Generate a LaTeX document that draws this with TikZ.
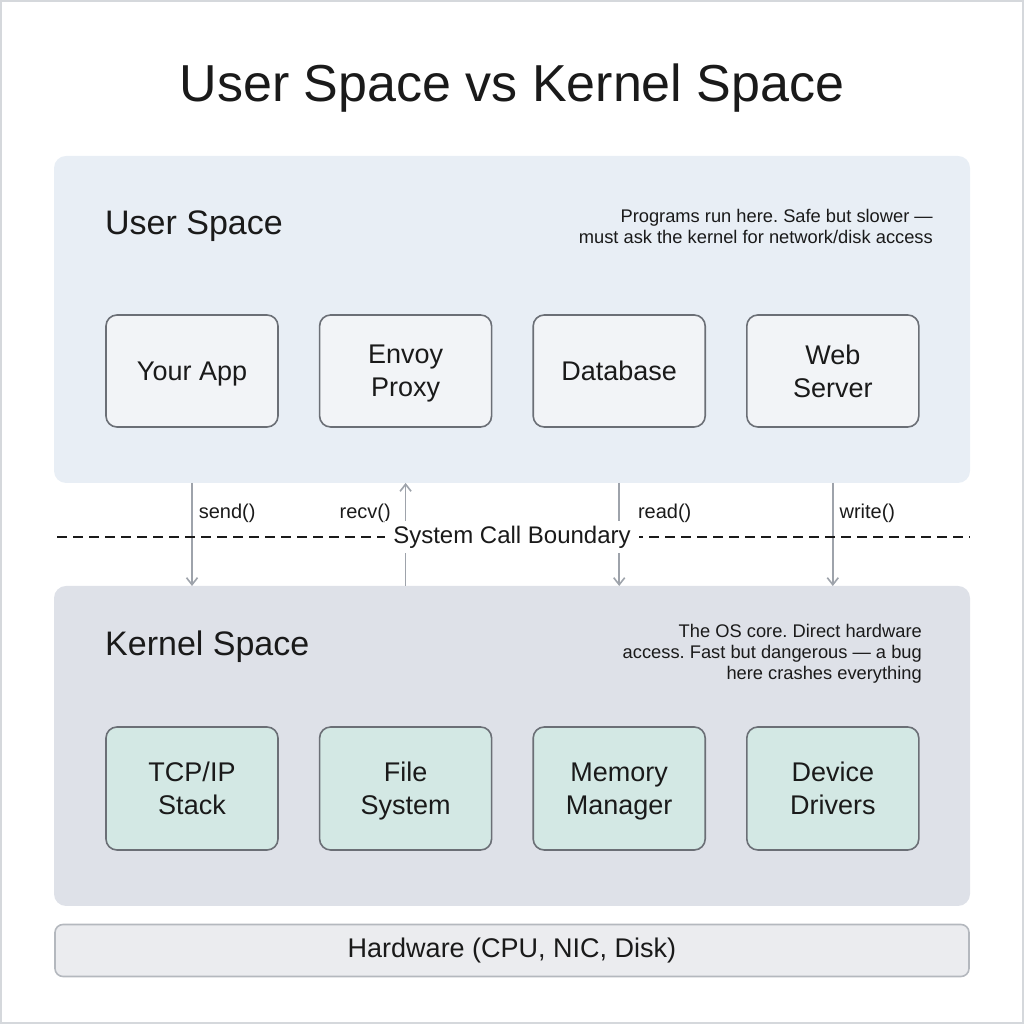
\documentclass[tikz,border=0pt]{standalone}
\usepackage{fontspec}
\setmainfont{Liberation Sans}
\usetikzlibrary{arrows.meta}
\usepackage{xcolor}
\definecolor{userfill}{HTML}{E8EEF5}
\definecolor{kernfill}{HTML}{DEE1E8}
\definecolor{appfill}{HTML}{F2F4F7}
\definecolor{modfill}{HTML}{D3E8E4}
\definecolor{boxline}{HTML}{6B6F76}
\definecolor{callline}{HTML}{9EA3AB}
\definecolor{hwfill}{HTML}{EBECEF}
\definecolor{hwline}{HTML}{B4B8BE}
\definecolor{framegray}{HTML}{D5D8DC}
\definecolor{ink}{HTML}{1A1A1A}
\newcommand{\fsz}[2]{\fontsize{#1}{#2}\selectfont}
\frenchspacing

\begin{document}
\begin{tikzpicture}[x=1pt,y=1pt,text=ink,>={Straight Barb[length=7pt,width=11pt]},
  panel/.style={rectangle,rounded corners=12pt,minimum width=916pt,inner sep=0pt,outer sep=0pt},
  appbox/.style={rectangle,draw=boxline,line width=1.6pt,rounded corners=11pt,minimum width=172pt,align=center,text depth=0pt,font=\fsz{27}{33}},
  call/.style={callline,line width=1.6pt,->},
  calllabel/.style={text=ink,font=\fsz{20}{24},inner sep=4pt}]
\useasboundingbox (0,0) rectangle (1024,1024);
\draw [framegray,line width=2pt] (1,1) rectangle (1023,1023);

\node [font=\fsz{52}{60}] (title) at (512,936) {User Space vs Kernel Space};

% user space
\node [panel,fill=userfill,minimum height=327pt] (upanel) at (512,704.5) {};
\node [anchor=base west,font=\fsz{34}{40},inner sep=0pt] (ulabel) at (105,789) {User Space};
\node [anchor=east,align=right,font=\fsz{18.3}{21},inner sep=0pt] (udesc) at (933,798) {Programs run here. Safe but slower —\\must ask the kernel for network/disk access};
\node [appbox,fill=appfill,minimum height=112pt] (app) at (192,653) {Your App};
\node [appbox,fill=appfill,minimum height=112pt,right=40pt,at=(app.east)] (envoy) {Envoy\\Proxy};
\node [appbox,fill=appfill,minimum height=112pt,right=40pt,at=(envoy.east)] (db) {Database};
\node [appbox,fill=appfill,minimum height=112pt,right=40pt,at=(db.east)] (web) {Web\\Server};

% kernel space
\node [panel,fill=kernfill,minimum height=320pt] (kpanel) at (512,278) {};
\node [anchor=base west,font=\fsz{34}{40},inner sep=0pt] (klabel) at (105,368) {Kernel Space};
\node [anchor=east,align=right,font=\fsz{18.3}{21},inner sep=0pt] (kdesc) at (922,370) {The OS core. Direct hardware\\access. Fast but dangerous — a bug\\here crashes everything};
\node [appbox,fill=modfill,minimum height=123pt] (tcp) at (192,235.5) {TCP/IP\\Stack};
\node [appbox,fill=modfill,minimum height=123pt,right=40pt,at=(tcp.east)] (fs) {File\\System};
\node [appbox,fill=modfill,minimum height=123pt,right=40pt,at=(fs.east)] (mem) {Memory\\Manager};
\node [appbox,fill=modfill,minimum height=123pt,right=40pt,at=(mem.east)] (drv) {Device\\Drivers};

% hardware
\node [rectangle,draw=hwline,fill=hwfill,line width=1.6pt,rounded corners=8pt,minimum width=914pt,minimum height=52pt,font=\fsz{27}{30}] (hw) at (512,73.5) {Hardware (CPU, NIC, Disk)};

% system calls
\draw [call] (app |- upanel.south) -- node [calllabel,right=2pt,pos=0.29] {send()} (app |- kpanel.north);
\draw [call] (envoy |- kpanel.north) -- node [calllabel,left=10pt,pos=0.71] {recv()} (envoy |- upanel.south);
\draw [call] (db |- upanel.south) -- node [calllabel,right=14pt,pos=0.29] {read()} (db |- kpanel.north);
\draw [call] (web |- upanel.south) -- node [calllabel,right=2pt,pos=0.29] {write()} (web |- kpanel.north);

\coordinate (bleft) at (57,487);
\coordinate (bright) at (970,487);
\draw [ink,line width=2.2pt,dash pattern=on 10pt off 6pt] (bleft) -- (bright);
\node [fill=white,font=\fsz{24}{28},inner xsep=8pt,inner ysep=5pt] (boundary) at (512,487) {System Call Boundary};
\end{tikzpicture}
\end{document}
